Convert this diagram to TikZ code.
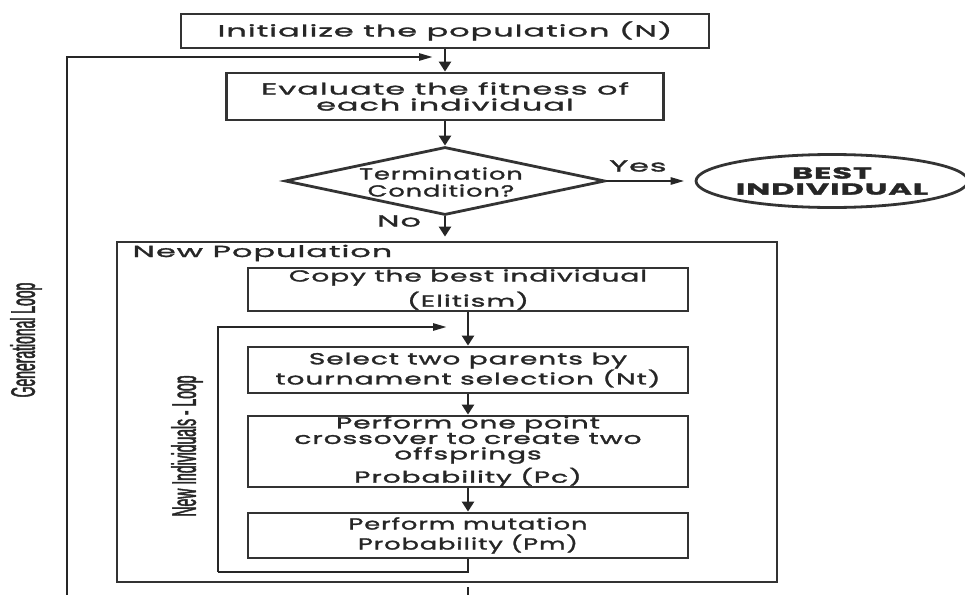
\documentclass[tikz,border=0pt]{standalone}
\usepackage{fontspec}
\setmainfont{Poppins}[FakeStretch=2.0,LetterSpace=6,FakeBold=1.8]
\newfontfamily\midfont{Poppins}[FakeStretch=1.75,LetterSpace=6,FakeBold=1.8]
\newfontfamily\slimfont{Poppins}[FakeStretch=1.6,LetterSpace=6,FakeBold=1.8]
\newfontfamily\narrowfont{Liberation Sans}[FakeStretch=0.41,FakeBold=1.3]
\usetikzlibrary{shapes.geometric,arrows.meta}

\begin{document}
\begin{tikzpicture}[x=1pt,y=-1pt,
  txt/.style={text=black!85,align=center,font=\fontsize{16}{16}\selectfont},
  midtxt/.style={txt,font=\midfont\fontsize{16}{15.5}\selectfont},
  slimtxt/.style={txt,font=\slimfont\fontsize{16}{17}\selectfont},
  stepbox/.style={draw=black!80,line width=2.8pt,rectangle,inner sep=0pt,txt},
  link/.style={draw=black!85,line width=2.6pt},
  vtip/.style={-{Triangle[length=10pt,width=12pt]}},
  htip/.style={-{Triangle[length=14pt,width=7pt]}},
  side/.style={text=black!85,font=\narrowfont\fontsize{34}{36}\selectfont,rotate=90}]

\useasboundingbox (0,0) rectangle (965,594);

% main chain
\node[stepbox,minimum width=528pt,minimum height=34pt] (init) at (445,31)
  {Initialize the population (N)};
\node[stepbox,minimum width=437pt,minimum height=47pt] (eval) at (445,96.5)
  {Evaluate the fitness of\\each individual};
\node[diamond,draw=black!80,line width=2.8pt,minimum width=320pt,minimum height=68pt,inner sep=0pt] (term) at (445,181) {};
\node[slimtxt] (termtext) at (441,182) {Termination\\Condition?};
\node[ellipse,draw=black!80,line width=2.8pt,minimum width=256pt,minimum height=53pt,inner sep=0pt,txt] (best) at (832,181)
  {\bfseries BEST\\\bfseries INDIVIDUAL};

% new population block
\node[draw=black!80,line width=2.8pt,rectangle,minimum width=660pt,minimum height=340pt] (newpop) at (447,412) {};
\node[txt,anchor=west] (newpoplabel) at (129,253) {New Population};

\node[stepbox,midtxt,minimum width=440pt,minimum height=43pt] (copy) at (468,289.5)
  {Copy the best individual\\[5pt](Elitism)};
\node[stepbox,midtxt,minimum width=440pt,minimum height=46pt] (select) at (468,370)
  {Select two parents by\\tournament selection (Nt)};
\node[stepbox,midtxt,minimum width=440pt,minimum height=71pt] (cross) at (468,451.5)
  {Perform one point\\crossover to create two\\offsprings\\[3pt]Probability (Pc)};
\node[stepbox,slimtxt,minimum width=440pt,minimum height=45pt] (mut) at (468,535.5)
  {Perform mutation\\[3pt]Probability (Pm)};

% loop labels
\node[side] (genlabel) at (26,340) {Generational Loop};
\node[side] (indlabel) at (187,446) {New Individuals - Loop};

% connectors
\draw[link,vtip] (init) -- (eval);
\draw[link,vtip] (eval) -- (term);
\draw[link,htip,shorten >=10pt] (term.east) -- (best.west);
\node[txt] (yes) at (638,166) {Yes};
\draw[link,vtip,shorten >=4pt] (term.south) -- (term.south |- newpop.north);
\node[txt] (no) at (399,221) {No};

\draw[link,vtip] (copy) -- (select);
\draw[link,vtip] (select) -- (cross);
\draw[link,vtip] (cross) -- (mut);

% generational loop
\coordinate (genstart) at (67,600);
\coordinate (genin) at (433,57);
\draw[link,htip] (genstart) |- (genin);

% new individuals loop
\coordinate (indcorner) at (218,572);
\coordinate (indin) at (447,327);
\draw[link] (mut.south) |- (indcorner);
\draw[link,htip] (indcorner) |- (indin);

% continuation below the block
\coordinate (outtop) at (468,587);
\coordinate (outbot) at (468,600);
\draw[link] (outtop) -- (outbot);
\end{tikzpicture}
\end{document}
